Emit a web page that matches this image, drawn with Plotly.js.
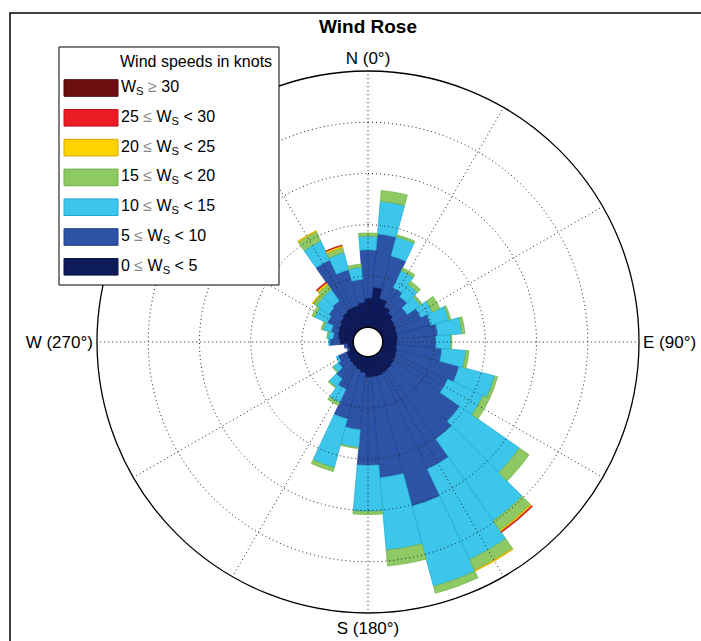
<!DOCTYPE html>
<html>
<head>
<meta charset="utf-8">
<script src="https://cdn.plot.ly/plotly-3.0.1.min.js"></script>
<style>
html,body{margin:0;padding:0;background:#fff;}
#chart{width:701px;height:641px;}
</style>
</head>
<body>
<div id="chart"></div>
<script>
// ---- data (frequency per direction bin, one circle = 1 unit) ----
const directions = [0,10,20,30,40,50,60,70,80,90,100,110,120,130,140,150,160,170,180,190,200,210,220,230,240,250,260,270,280,290,300,310,320,330,340,350];

const ws0to5   = [0.57,0.79,0.59,0.47,0.40,0.34,0.32,0.30,0.30,0.28,0.28,0.30,0.32,0.34,0.36,0.38,0.40,0.40,0.40,0.32,0.28,0.24,0.22,0.20,0.18,0.10,0.12,0.26,0.30,0.32,0.34,0.38,0.42,0.45,0.45,0.49];
const ws5to10  = [0.94,1.04,0.86,0.41,0.39,0.31,0.53,0.68,0.78,0.76,0.88,1.25,1.11,1.56,1.66,2.07,2.63,1.97,1.72,1.11,0.99,0.49,0.37,0.22,0.18,0.04,0.06,0.20,0.10,0.14,0.25,0.27,0.27,1.03,0.72,0.45];
const ws10to15 = [0.27,0.64,0.39,0.37,0.29,0.31,0.25,0.37,0.47,0.29,0.47,0.72,0.76,1.42,1.95,1.95,1.62,1.42,0.90,0.35,0.98,0.29,0.20,0.12,0.04,0.00,0.00,0.02,0.10,0.16,0.27,0.29,0.27,0.41,0.35,0.24];
const ws15to20 = [0.06,0.21,0.04,0.06,0.08,0.04,0.16,0.04,0.06,0.02,0.06,0.06,0.14,0.23,0.23,0.23,0.14,0.31,0.06,0.02,0.08,0.06,0.02,0.02,0.00,0.00,0.00,0.00,0.02,0.04,0.06,0.08,0.12,0.20,0.10,0.06];
const ws20to25 = [0,0,0,0,0,0,0,0,0,0,0,0,0,0,0.03,0.02,0,0,0,0,0,0,0,0,0,0,0,0,0,0,0,0.02,0.04,0.02,0.04,0];
const ws25to30 = [0,0,0,0,0,0,0,0,0,0,0,0,0,0,0.02,0,0,0,0,0,0,0,0,0,0,0,0,0,0,0,0,0,0.02,0,0.01,0];
const ws30plus = [0,0,0,0,0,0,0,0,0,0,0,0,0,0,0,0,0,0,0,0,0,0,0,0,0,0,0,0,0,0,0,0,0,0,0,0];

const binLabels = [
  '0 <span style="color:#888">≤</span> W<sub>S</sub> < 5',
  '5 <span style="color:#888">≤</span> W<sub>S</sub> < 10',
  '10 <span style="color:#888">≤</span> W<sub>S</sub> < 15',
  '15 <span style="color:#888">≤</span> W<sub>S</sub> < 20',
  '20 <span style="color:#888">≤</span> W<sub>S</sub> < 25',
  '25 <span style="color:#888">≤</span> W<sub>S</sub> < 30',
  'W<sub>S</sub> <span style="color:#888">≥</span> 30'
];
const binColors = ['#0d1a5b','#2c53a6','#3cc6ec','#8ec963','#ffd200','#ec1c24','#6d0f10'];
const binEdges  = ['#0a1240','#213f86','#22a7cf','#6fb14a','#d9a800','#c01018','#4a0808'];

const cardinalVals = [0,90,180,270];
const cardinalText = ['N (0°)','E (90°)','S (180°)','W (270°)'];
const spokeAngles  = [0,30,60,90,120,150,180,210,240,270,300,330];
const ringVals     = [1,2,3,4];
const outerRing    = 5;

const seriesList = [ws0to5, ws5to10, ws10to15, ws15to20, ws20to25, ws25to30, ws30plus];

const FONT = 'Liberation Sans, Arial, Helvetica, sans-serif';
const GRID_DASH = '1px,3px';
const GRID_COLOR = '#222';

// ---- traces: stacked wind-speed bars ----
const traces = seriesList.map((vals, i) => ({
  type: 'barpolar',
  r: vals,
  theta: directions,
  width: 10,
  name: binLabels[i].replace(/<[^>]+>/g, ''),
  marker: {color: binColors[i], line: {color: binEdges[i], width: 0.7}},
  showlegend: false,
  hoverinfo: 'skip'
}));

// ---- dotted grid drawn above the bars (as in the reference) ----
const circleTheta = [];
for (let a = 0; a <= 360; a += 1) circleTheta.push(a);
ringVals.forEach(rv => {
  traces.push({
    type: 'scatterpolar', mode: 'lines',
    r: circleTheta.map(() => rv), theta: circleTheta,
    line: {color: GRID_COLOR, width: 1, dash: GRID_DASH},
    showlegend: false, hoverinfo: 'skip'
  });
});
spokeAngles.forEach(a => {
  traces.push({
    type: 'scatterpolar', mode: 'lines',
    r: [0, outerRing], theta: [a, a],
    line: {color: GRID_COLOR, width: 1, dash: GRID_DASH},
    showlegend: false, hoverinfo: 'skip'
  });
});

// pixel helpers for layout placement (page is 701 x 641, margins 0)
const W = 701, H = 641;
const px = x => x / W;
const py = y => 1 - y / H;

const shapes = [];
const annotations = [];

// outer frame
shapes.push({type:'rect', xref:'paper', yref:'paper', x0:px(10), x1:1.05, y0:-0.05, y1:py(13),
  line:{color:'#000', width:1.5}, fillcolor:'rgba(0,0,0,0)'});

// legend box
shapes.push({type:'rect', xref:'paper', yref:'paper', x0:px(59), x1:px(279), y0:py(285), y1:py(47),
  line:{color:'#000', width:1}, fillcolor:'#fff', layer:'above'});
annotations.push({xref:'paper', yref:'paper', x:px(274), y:py(62), xanchor:'right', yanchor:'middle',
  text:'Wind speeds in knots', showarrow:false, font:{family:FONT, size:16, color:'#000'}});
for (let k = 0; k < binLabels.length; k++) {
  const i = binLabels.length - 1 - k;
  const yc = 88 + k * 29.8;
  shapes.push({type:'rect', xref:'paper', yref:'paper', x0:px(64), x1:px(118), y0:py(yc + 8.3), y1:py(yc - 8.3),
    line:{color:binEdges[i], width:1}, fillcolor:binColors[i], layer:'above'});
  annotations.push({xref:'paper', yref:'paper', x:px(119), y:py(yc - 0.5), xanchor:'left', yanchor:'middle',
    text:binLabels[i], showarrow:false, font:{family:FONT, size:16, color:'#000'}});
}

const layout = {
  width: W, height: H,
  margin: {l:0, r:0, t:0, b:0},
  paper_bgcolor: '#fff',
  font: {family:FONT, color:'#000'},
  title: {text:'<b>Wind Rose</b>', x:px(368), xanchor:'center', y:py(26), yanchor:'middle',
    font:{family:FONT, size:19, color:'#000'}},
  showlegend: false,
  polar: {
    domain: {x:[px(97), px(639)], y:[py(613), py(71)]},
    hole: 14.75 / 271,
    bgcolor: '#fff',
    barmode: 'stack',
    bargap: 0,
    radialaxis: {
      range: [0, outerRing], showticklabels: false, ticks: '',
      showline: false, showgrid: false
    },
    angularaxis: {
      rotation: 90, direction: 'clockwise',
      tickmode: 'array', tickvals: cardinalVals, ticktext: cardinalText,
      ticks: '', showline: true, linecolor: '#000', linewidth: 1.3,
      showgrid: false,
      tickfont: {family:FONT, size:17, color:'#000'},
      layer: 'above traces'
    }
  },
  shapes: shapes,
  annotations: annotations
};

Plotly.newPlot('chart', traces, layout, {displayModeBar:false, staticPlot:true});
</script>
</body>
</html>
